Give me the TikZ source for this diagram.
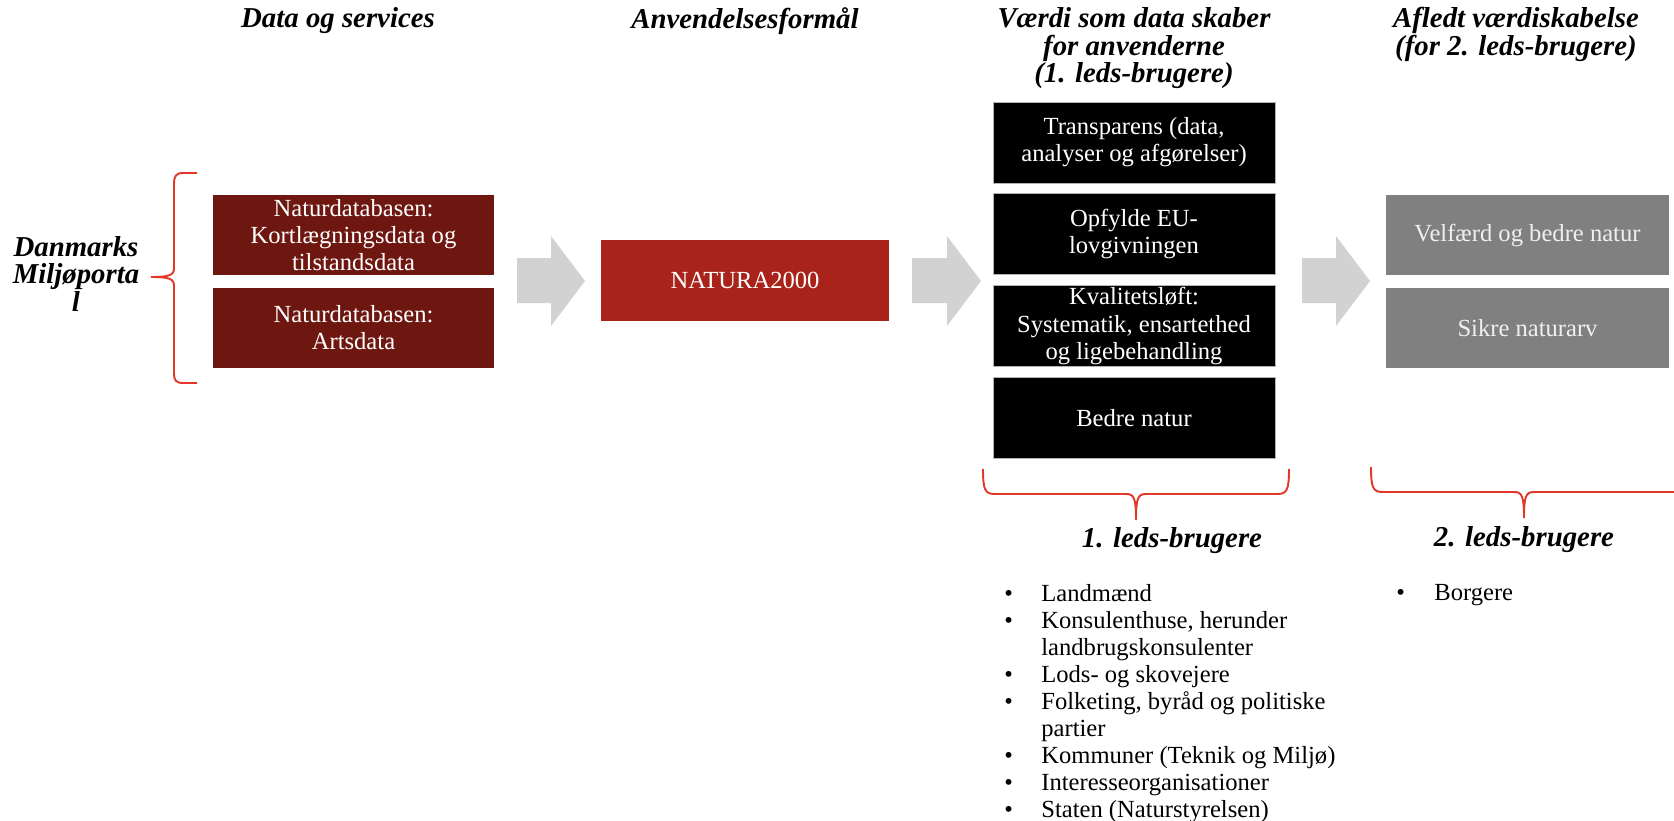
\documentclass[tikz,border=0pt]{standalone}
\usepackage{fontspec}
\setmainfont{Liberation Serif}
\usetikzlibrary{positioning}

\definecolor{mpdark}{HTML}{6E1710}
\definecolor{mpred}{HTML}{A8241A}
\definecolor{mpgray}{HTML}{808080}
\definecolor{mparrow}{HTML}{D2D2D2}
\definecolor{mpbrace}{HTML}{E2382A}

\begin{document}
\begin{tikzpicture}[x=0.02cm,y=-0.02cm,
	head/.style={font=\fontsize{16.4}{15.8}\selectfont\bfseries\itshape, align=center, inner sep=0pt},
	box/.style={minimum width=5.64cm, minimum height=1.62cm, align=center, inner sep=0pt, text=white, font=\fontsize{14}{15.5}\selectfont},
	bracket/.style={draw=mpbrace, line width=1.1pt}]
	\useasboundingbox (0,0) rectangle (1674,821);

	% headings
	\node [head,anchor=north] (hdata) at (338,7) {Data og services};
	\node [head,anchor=north] (hanv)  at (745,7) {Anvendelsesformål};
	\node [head,anchor=north] (hval)  at (1134,7) {Værdi som data skaber\\for anvenderne\\(1. leds-brugere)};
	\node [head,anchor=north] (hafl)  at (1516,7) {Afledt værdiskabelse\\(for 2. leds-brugere)};
	\node [head] (portal) at (76,274) {Danmarks\\Miljøporta\\l};

	% data boxes
	\begin{scope}[nodes={box, fill=mpdark, minimum width=5.62cm, minimum height=1.6cm}]
	\node (dbkort) at (353.5,235) {Naturdatabasen:\\Kortlægningsdata og\\tilstandsdata};
	\node [below=0.24cm of dbkort] (dbarts) {Naturdatabasen:\\Artsdata};
	\end{scope}

	% purpose
	\node [box, fill=mpred, minimum width=5.76cm] (natura) at (745,280.5) {NATURA2000};

	% value boxes
	\begin{scope}[nodes={box, fill=black, draw=gray!60, line width=0.5pt}]
	\node (transp) at (1134,142.5) {Transparens (data,\\analyser og afgørelser)};
	\node [below=0.2cm of transp] (eulov) {Opfylde EU-\\lovgivningen};
	\node [below=0.2cm of eulov] (kval) {Kvalitetsløft:\\Systematik, ensartethed\\og ligebehandling};
	\node [below=0.2cm of kval] (bnatur) {Bedre natur};
	\end{scope}

	% derived boxes
	\begin{scope}[nodes={box, fill=mpgray, text=white!94!black, minimum width=5.66cm, minimum height=1.6cm}]
	\node (velf) at (1527.5,235) {Velfærd og bedre natur};
	\node [below=0.24cm of velf] (arv) {Sikre naturarv};
	\end{scope}

	% arrows
	\fill [mparrow] (517,258) -- (551,258) -- (551,236) -- (585,281) -- (551,326) -- (551,303) -- (517,303) -- cycle;
	\fill [mparrow] (912,258) -- (947,258) -- (947,236) -- (981,281) -- (947,326) -- (947,303) -- (912,303) -- cycle;
	\fill [mparrow] (1302,258) -- (1336,258) -- (1336,236) -- (1370,281) -- (1336,326) -- (1336,303) -- (1302,303) -- cycle;

	% braces
	\draw [bracket] (197,173) -- (183,173) .. controls (176,173) and (174,176) .. (174,184) -- (174,268)
		.. controls (174,275) and (170,277) .. (151,277) .. controls (170,277) and (174,279) .. (174,286)
		-- (174,374) .. controls (174,380) and (176,383) .. (183,383) -- (197,383);
	\draw [bracket] (983,469) .. controls (983,490) and (985,494) .. (995,494) -- (1126,494)
		.. controls (1134,494) and (1136,498) .. (1136,520) .. controls (1136,498) and (1138,494) .. (1146,494)
		-- (1277,494) .. controls (1287,494) and (1289,490) .. (1289,469);
	\draw [bracket] (1371,467) .. controls (1371,488) and (1373,492) .. (1383,492) -- (1514,492)
		.. controls (1522,492) and (1524,496) .. (1524,518) .. controls (1524,496) and (1526,492) .. (1534,492)
		-- (1674,492);

	% users
	\node [head] (led1) at (1172,541) {1. leds-brugere};
	\node [head] (led2) at (1524,540) {2. leds-brugere};
	\node [anchor=base west, inner sep=0pt, font=\fontsize{14}{15.4}\selectfont] (list1) at (1004,601)
		{\begin{tabular}[t]{@{}p{0.74cm}@{}l@{}}
		\textbullet & Landmænd\\
		\textbullet & Konsulenthuse, herunder\\
		 & landbrugskonsulenter\\
		\textbullet & Lods- og skovejere\\
		\textbullet & Folketing, byråd og politiske\\
		 & partier\\
		\textbullet & Kommuner (Teknik og Miljø)\\
		\textbullet & Interesseorganisationer\\
		\textbullet & Staten (Naturstyrelsen)
		\end{tabular}};
	\node [anchor=base west, inner sep=0pt, font=\fontsize{14}{15.4}\selectfont] (list2) at (1396,600)
		{\begin{tabular}[t]{@{}p{0.76cm}@{}l@{}}
		\textbullet & Borgere
		\end{tabular}};
\end{tikzpicture}
\end{document}
